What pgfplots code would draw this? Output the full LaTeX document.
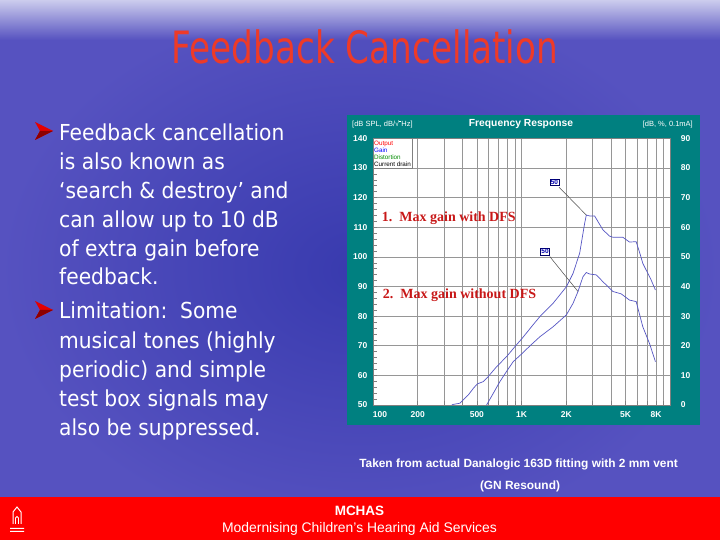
\documentclass[border=0pt]{standalone}
\usepackage{pgfplots}
\pgfplotsset{compat=1.18}
\usepackage{fontspec}
\setmainfont{Liberation Sans}
\newfontfamily\tah{DejaVu Sans}
\newfontfamily\tnr{Liberation Serif}
\usetikzlibrary{fadings}

\definecolor{slidemid}{RGB}{56,58,174}
\definecolor{slideedge}{RGB}{86,82,192}
\definecolor{lav}{RGB}{205,205,238}
\definecolor{panel}{RGB}{0,128,128}
\definecolor{curve}{RGB}{86,86,196}
\definecolor{gridgray}{RGB}{150,150,150}
\definecolor{framegray}{RGB}{128,128,128}
\definecolor{titlered}{RGB}{238,58,40}
\definecolor{annred}{RGB}{200,24,24}
\definecolor{shadow}{RGB}{28,28,90}

% data (Hz, dB)
\pgfplotstableread{
f     db
339   50.0
347   50.2
385   50.6
405   51.7
438   53.4
473   55.6
503   57.1
552   57.9
596   59.6
678   62.9
791   66.3
923   70.3
1008  72.5
1164  76.4
1324  79.8
1626  84.3
1998  89.9
2215  94.4
2454  101.2
2652  111.3
2720  114.1
2864  113.8
3094  113.8
3519  109.1
3900  107.0
4107  106.6
4792  106.6
5300  105.0
5886  105.1
6250  101.0
6523  97.8
7420  92.2
7933  88.8
}\withdfs
\pgfplotstableread{
f     db
581   50.0
644   53.9
714   57.9
791   61.3
877   64.6
1008  67.4
1134  69.9
1324  73.0
1626  76.4
1998  80.4
2215  84.3
2392  88.3
2584  93.3
2720  94.7
2864  94.2
3174  93.9
3519  91.6
4107  88.3
4669  87.5
5311  85.4
5886  84.9
6523  76.4
7232  70.8
7933  64.6
}\nodfs

\newcommand\bline[2]{%
  \node[anchor=base west, inner sep=0, text=white] at (59,#1) {\scalebox{0.92}[1]{\tah\fontsize{22}{24}\selectfont #2}};}
\newcommand\arrowbullet[1]{%
  \fill[red!90!black] (35,#1+9) -- (53,#1) -- (35,#1-9) -- (40,#1) -- cycle;
  \fill[red!55!black] (53,#1) -- (35,#1-9) -- (40,#1) -- cycle;}

\begin{document}
\begin{tikzpicture}[x=1pt,y=1pt]
\useasboundingbox (0,0) rectangle (720,540);
% slide background
\shade[inner color=slidemid, outer color=slideedge] (0,0) rectangle (720,540);
\fill[lav, path fading=south] (0,500) rectangle (720,540);
\fill[red] (0,0) rectangle (720,43);

% title
\node[anchor=base, inner sep=0, text=titlered] at (365,476) {\scalebox{0.77}[1]{\tah\fontsize{44.5}{48}\selectfont Feedback Cancellation}};

% bullets
\arrowbullet{409}
\bline{399}{Feedback cancellation}
\bline{370}{is also known as}
\bline{341}{‘search \& destroy’ and}
\bline{312.3}{can allow up to 10 dB}
\bline{283.3}{of extra gain before}
\bline{255}{feedback.}
\arrowbullet{230}
\bline{221}{Limitation:\ \ Some}
\bline{191.7}{musical tones (highly}
\bline{162.7}{periodic) and simple}
\bline{133.3}{test box signals may}
\bline{104.3}{also be suppressed.}

% chart panel
\fill[panel] (347,115) rectangle (700,425);
\node[anchor=base west, inner sep=0, text=white, font=\fontsize{7.5}{8}\selectfont] at (352,413) {[dB SPL, dB/√\rule[0.72em]{0.28em}{0.35pt}Hz]};
\node[anchor=base, inner sep=0, text=white, font=\bfseries\fontsize{10.3}{11}\selectfont] at (521,413.5) {Frequency Response};
\node[anchor=base east, inner sep=0, text=white, font=\fontsize{7.5}{8}\selectfont] at (693,413) {[dB, \%, 0.1mA]};

\begin{axis}[
  at={(372.9pt,135pt)}, anchor=south west,
  scale only axis, width=297.5pt, height=266.7pt,
  xmode=log, xmin=100, xmax=10000, ymin=50, ymax=140,
  axis background/.style={fill=white},
  axis line style={framegray, line width=0.6pt},
  xtick={100,200,500,1000,2000,5000,8000},
  xticklabels={\rlap{100},200,500,1K,2K,5K,8K},
  minor xtick={300,400,600,700,800,900,3000,4000,6000,7000,9000},
  ytick={50,60,...,140},
  yticklabels={50,60,70,80,90,100,110,120,130,140},
  minor ytick={52,54,...,138},
  xmajorgrids, xminorgrids, ymajorgrids,
  grid style={gridgray, line width=0.6pt},
  minor grid style={gridgray, line width=0.6pt},
  major tick length=4pt, minor tick length=4pt,
  tick style={framegray, line width=0.5pt},
  tick pos=left,
  ticklabel style={text=white, font=\bfseries\fontsize{8.5}{9}\selectfont},
  yticklabel style={xshift=-2pt},
  xticklabel style={yshift=-3pt},
  clip=false,
]
\addplot[curve, line width=0.7pt] table[x=f, y=db] {\withdfs};
\addplot[curve, line width=0.7pt] table[x=f, y=db] {\nodfs};
% leader lines and level boxes
\draw[black!70, line width=0.5pt] (axis cs:1784,123.5) -- (axis cs:2720,114.1);
\draw[black!70, line width=0.5pt] (axis cs:1545,100.1) -- (axis cs:2392,88.3);
\node[draw=blue!40!black, fill=white, text=blue!70!black, inner sep=0.8pt, font=\bfseries\fontsize{6.5}{7}\selectfont] at (axis cs:1660,125.15) {50};
\node[draw=blue!40!black, fill=white, text=blue!70!black, inner sep=0.8pt, font=\bfseries\fontsize{6.5}{7}\selectfont] at (axis cs:1437,101.75) {50};
% legend box
\node[anchor=north west, draw=framegray, fill=white, inner sep=1pt, align=left, font=\fontsize{6.3}{7}\selectfont, minimum width=38.8pt, minimum height=30pt] at (rel axis cs:0,1)
 {\textcolor{red}{Output}\\\textcolor{blue}{Gain}\\\textcolor{green!55!black}{Distortion}\\\textcolor{black}{Current drain}};
\end{axis}

\begin{axis}[
  at={(372.9pt,135pt)}, anchor=south west,
  scale only axis, width=297.5pt, height=266.7pt,
  xmode=log, xmin=100, xmax=10000, ymin=0, ymax=90,
  hide x axis,
  axis y line*=right,
  axis line style={framegray, line width=0.6pt},
  ytick={0,10,...,90},
  yticklabels={0,10,20,30,40,50,60,70,80,90},
  major tick length=0pt,
  yticklabel style={text=white, font=\bfseries\fontsize{8.5}{9}\selectfont, anchor=west, xshift=7pt},
]
\end{axis}

% red annotations on the chart
\node[anchor=base west, inner sep=0, text=annred, font=\tnr\bfseries\fontsize{14}{15}\selectfont] at (381.7,318.5) {1.\ \ Max gain with DFS};
\node[anchor=base west, inner sep=0, text=annred, font=\tnr\bfseries\fontsize{14}{15}\selectfont] at (382.7,241) {2.\ \ Max gain without DFS};

% caption
\node[anchor=base, inner sep=0, text=white, font=\bfseries\fontsize{11.9}{13}\selectfont] at (518.5,72.7) {Taken from actual Danalogic 163D fitting with 2 mm vent};
\node[anchor=base, inner sep=0, text=white, font=\bfseries\fontsize{11.9}{13}\selectfont] at (520,50) {(GN Resound)};

% footer
\node[anchor=base, inner sep=0, text=white, font=\bfseries\fontsize{13.5}{14}\selectfont] at (359.5,24.5) {MCHAS};
\node[anchor=base, inner sep=0, text=white, font=\fontsize{13.9}{15}\selectfont] at (359.5,7.5) {Modernising Children's Hearing Aid Services};
% small logo
\draw[white, line width=1pt] (13,16) -- (13,28) -- (17,33) -- (21,28) -- (21,16);
\draw[white, line width=0.8pt] (15.5,16) -- (15.5,22) arc (180:0:1.5) -- (18.5,16);
\fill[white] (10,11) rectangle (24,12) (10,8) rectangle (24,9);
\end{tikzpicture}
\end{document}
